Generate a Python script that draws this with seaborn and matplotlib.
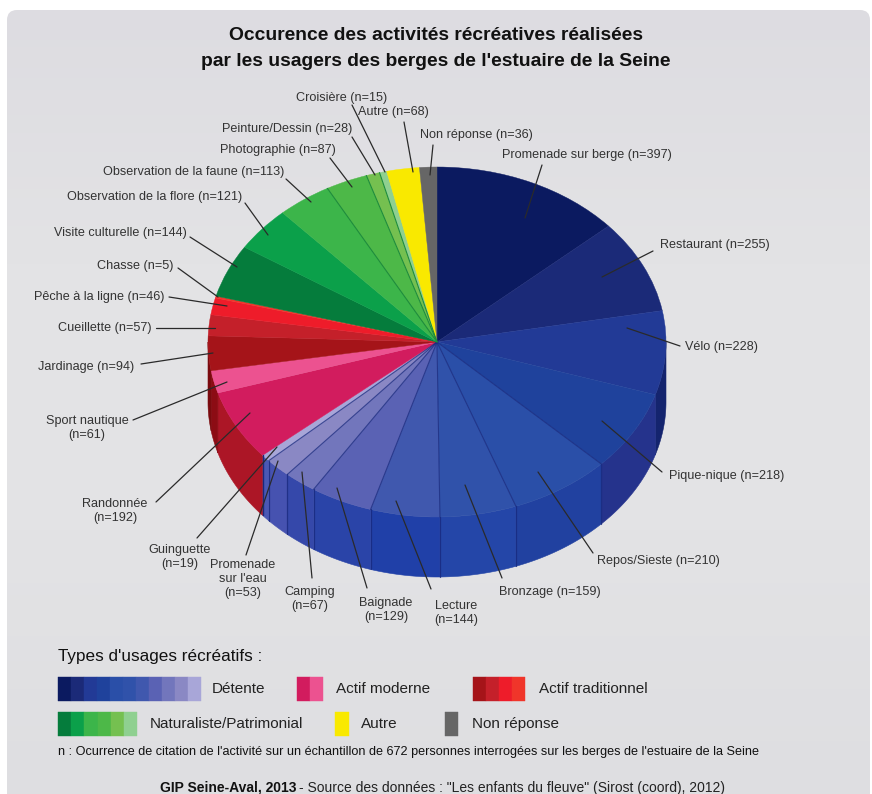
import numpy as np
import matplotlib
matplotlib.use("Agg")
import matplotlib.pyplot as plt
from matplotlib.colors import LinearSegmentedColormap
from matplotlib.patches import FancyBboxPatch, Rectangle
import seaborn as sns

activities = ["Promenade sur berge", "Restaurant", "Vélo", "Pique-nique", "Repos/Sieste",
              "Bronzage", "Lecture", "Baignade", "Camping", "Promenade sur l'eau", "Guinguette",
              "Randonnée", "Sport nautique", "Jardinage", "Cueillette", "Pêche à la ligne",
              "Chasse", "Visite culturelle", "Observation de la flore",
              "Observation de la faune", "Photographie", "Peinture/Dessin", "Croisière",
              "Autre", "Non réponse"]
occurrences = [397, 255, 228, 218, 210, 159, 144, 129, 67, 53, 19,
               192, 61, 94, 57, 46, 5, 144, 121, 113, 87, 28, 15, 68, 36]

detente_colors = ["#0b1a60", "#1b2a78", "#223a96", "#1f429c", "#2a4fa8", "#3052aa",
                  "#4058ae", "#5a62b4", "#7276bc", "#8a88c4", "#a8a6d8"]
moderne_colors = ["#d21c5e", "#ec5290"]
tradition_colors = ["#a51419", "#c4202a", "#ee1c2a", "#f0352a"]
nature_colors = ["#057c3c", "#0ba04a", "#3cb54a", "#4db848", "#75c050", "#8fd090"]
autre_colors = ["#f9e900"]
nr_colors = ["#666666"]

# Side wall shades for the slices that face the viewer
wall_colors = {"Vélo": "#14246e", "Pique-nique": "#25338c", "Repos/Sieste": "#2141a0",
               "Bronzage": "#2446a8", "Lecture": "#2040a8", "Baignade": "#2a44a8",
               "Camping": "#3548aa", "Promenade sur l'eau": "#4652b0",
               "Guinguette": "#4a58b4", "Randonnée": "#ac1626",
               "Sport nautique": "#8c0c14", "Jardinage": "#7a0a0e"}

title_lines = ["Occurence des activités récréatives réalisées",
               "par les usagers des berges de l'estuaire de la Seine"]

W, H = 872, 794
CX, CY, RX, RY, DEPTH = 437, 342, 229, 175, 60

sns.set_theme(style="white")
plt.rcParams["font.family"] = ["Liberation Sans", "DejaVu Sans"]
top_colors = sns.color_palette(detente_colors + moderne_colors + tradition_colors
                               + nature_colors + autre_colors + nr_colors)

fig = plt.figure(figsize=(W / 100, H / 100), dpi=100, facecolor="white")

# Rounded background panel with a faint vertical shading
back = fig.add_axes([0, 0, 1, 1], zorder=0)
back.set_xlim(0, W); back.set_ylim(H, 0); back.axis("off")
panel = FancyBboxPatch((7, 10), W - 9, H + 30, boxstyle="round,pad=0,rounding_size=10",
                       fc="none", ec="none")
back.add_patch(panel)
shade = LinearSegmentedColormap.from_list("panel", ["#dddce1", "#e3e3e5", "#e3e3e5", "#dedee1"])
image = back.imshow(np.linspace(0, 1, 256).reshape(-1, 1), cmap=shade, aspect="auto",
                    extent=(0, W, H, 0), zorder=0)
image.set_clip_path(panel)
back.set_xlim(0, W); back.set_ylim(H, 0)

# Pie axes: one data unit is RX pixels across and RY pixels down, giving the tilted disc
pie_ax = fig.add_axes([0, 0, 1, 1], zorder=1)
pie_ax.patch.set_visible(False)

n = np.array(occurrences, dtype=float)
edges = np.concatenate([[0], np.cumsum(n)]) / n.sum() * 2 * np.pi
dz = DEPTH / RY

for name, a, b in zip(activities, edges[:-1], edges[1:]):
    lo, hi = max(a, np.pi / 2), min(b, 3 * np.pi / 2)
    if name in wall_colors and hi > lo:
        t = np.linspace(lo, hi, 60)
        xs = np.concatenate([np.sin(t), np.sin(t[::-1])])
        ys = np.concatenate([np.cos(t), np.cos(t[::-1]) - dz])
        pie_ax.fill(xs, ys, fc=wall_colors[name], ec=wall_colors[name], lw=0.4, zorder=1)

pie_ax.pie(occurrences, colors=top_colors, startangle=90, counterclock=False, radius=1,
           wedgeprops=dict(linewidth=0.3, zorder=2), normalize=True)
for wedge, c in zip(pie_ax.patches[-len(occurrences):], top_colors):
    wedge.set_edgecolor(c)
    wedge.set_zorder(2)

# Darker seams between neighbouring slices on the disc and along the wall
seam_names = ["Pique-nique", "Repos/Sieste", "Bronzage", "Lecture", "Baignade", "Camping",
              "Promenade sur l'eau"]
for name in seam_names:
    t = edges[activities.index(name) + 1]
    pie_ax.plot([0, np.sin(t)], [0, np.cos(t)], color="#18297e", lw=0.8, alpha=0.75, zorder=3)
    pie_ax.plot([np.sin(t)] * 2, [np.cos(t), np.cos(t) - dz], color="#18297e", lw=0.9,
                alpha=0.8, zorder=3)
t = edges[activities.index("Guinguette") + 1]
pie_ax.plot([np.sin(t)] * 2, [np.cos(t), np.cos(t) - dz], color="#18297e", lw=1.0, zorder=3)
for name in ["Observation de la faune", "Photographie", "Peinture/Dessin"]:
    t = edges[activities.index(name) + 1]
    pie_ax.plot([0, np.sin(t)], [0, np.cos(t)], color="#1d8c3c", lw=0.8, zorder=3)

pie_ax.set_aspect("auto")
pie_ax.set_xlim(-CX / RX, (W - CX) / RX)
pie_ax.set_ylim(-(H - CY) / RY, CY / RY)
pie_ax.axis("off")

# Overlay in pixel coordinates for text, leaders and the key
ov = fig.add_axes([0, 0, 1, 1], zorder=2)
ov.patch.set_visible(False)
ov.set_xlim(0, W); ov.set_ylim(H, 0); ov.axis("off")

for line, y in zip(title_lines, [36, 61]):
    ov.text(436, y, line, ha="center", va="center", fontsize=13.9, fontweight="bold", color="#111111")

# Label text per activity with its placement and leader segment
label_layout = [
    ("Promenade sur berge (n=397)", 587, 155, (542, 165), (525, 218)),
    ("Restaurant (n=255)", 715, 245, (653, 251), (602, 277)),
    ("Vélo (n=228)", 721, 347, (680, 346), (627, 328)),
    ("Pique-nique (n=218)", 727, 476, (662, 472), (602, 421)),
    ("Repos/Sieste (n=210)", 658, 561, (593, 553), (538, 472)),
    ("Bronzage (n=159)", 550, 592, (502, 578), (465, 485)),
    ("Lecture\n(n=144)", 456, 613, (431, 589), (396, 501)),
    ("Baignade\n(n=129)", 386, 610, (367, 588), (337, 488)),
    ("Camping\n(n=67)", 310, 599, (312, 578), (302, 472)),
    ("Promenade\nsur l'eau\n(n=53)", 243, 579, (246, 555), (278, 461)),
    ("Guinguette\n(n=19)", 180, 557, (197, 538), (277, 447)),
    ("Randonnée\n(n=192)", 115, 511, (156, 502), (250, 413)),
    ("Sport nautique\n(n=61)", 87, 428, (133, 420), (227, 382)),
    ("Jardinage (n=94)", 86, 367, (141, 364), (213, 353)),
    ("Cueillette (n=57)", 105, 328, (156, 328), (215, 328)),
    ("Pêche à la ligne (n=46)", 99, 297, (169, 297), (227, 306)),
    ("Chasse (n=5)", 135, 266, (178, 268), (218, 297)),
    ("Visite culturelle (n=144)", 120, 233, (190, 237), (237, 267)),
    ("Observation de la flore (n=121)", 155, 197, (245, 203), (268, 235)),
    ("Observation de la faune (n=113)", 194, 172, (286, 179), (311, 202)),
    ("Photographie (n=87)", 278, 150, (330, 158), (352, 187)),
    ("Peinture/Dessin (n=28)", 287, 129, (352, 137), (375, 175)),
    ("Croisière (n=15)", 342, 98, (352, 105), (385, 172)),
    ("Autre (n=68)", 393, 112, (404, 122), (413, 172)),
    ("Non réponse (n=36)", 476, 135, (433, 145), (430, 175)),
]
for text, x, y, p0, p1 in label_layout:
    ov.text(x, y, text, ha="center", va="center", fontsize=9.1, color="#333333",
            linespacing=1.25)
    ov.plot([p0[0], p1[0]], [p0[1], p1[1]], color="#2a2a2a", lw=0.9, solid_capstyle="round")

# Key
ov.text(58, 657, "Types d'usages récréatifs :", ha="left", va="center", fontsize=12.3, color="#111111")

def swatch(x0, x1, y0, y1, colors):
    step = (x1 - x0) / len(colors)
    for i, c in enumerate(colors):
        ov.add_patch(Rectangle((x0 + i * step, y0), step, y1 - y0, fc=c, ec=c, lw=0.3))

for x0, x1, y0, cols, label, tx in [
        (58, 201, 677, detente_colors, "Détente", 212),
        (297, 323, 677, moderne_colors, "Actif moderne", 336),
        (473, 525, 677, tradition_colors, "Actif traditionnel", 539),
        (58, 137, 712, nature_colors, "Naturaliste/Patrimonial", 150),
        (335, 349, 712, autre_colors, "Autre", 361),
        (445, 458, 712, nr_colors, "Non réponse", 472)]:
    swatch(x0, x1, y0, y0 + 24, cols)
    ov.text(tx, y0 + 12, label, ha="left", va="center", fontsize=11, color="#222222")

ov.text(58, 752, "n : Ocurrence de citation de l'activité sur un échantillon de 672 personnes "
        "interrogées sur les berges de l'estuaire de la Seine",
        ha="left", va="center", fontsize=9.1, color="#111111")
ov.text(296, 788, "GIP Seine-Aval, 2013", ha="right", va="center", fontsize=10,
        fontweight="bold", color="#111111")
ov.text(299, 788, "- Source des données : \"Les enfants du fleuve\" (Sirost (coord), 2012)",
        ha="left", va="center", fontsize=10, color="#222222")

fig.savefig("out.png", dpi=100)
